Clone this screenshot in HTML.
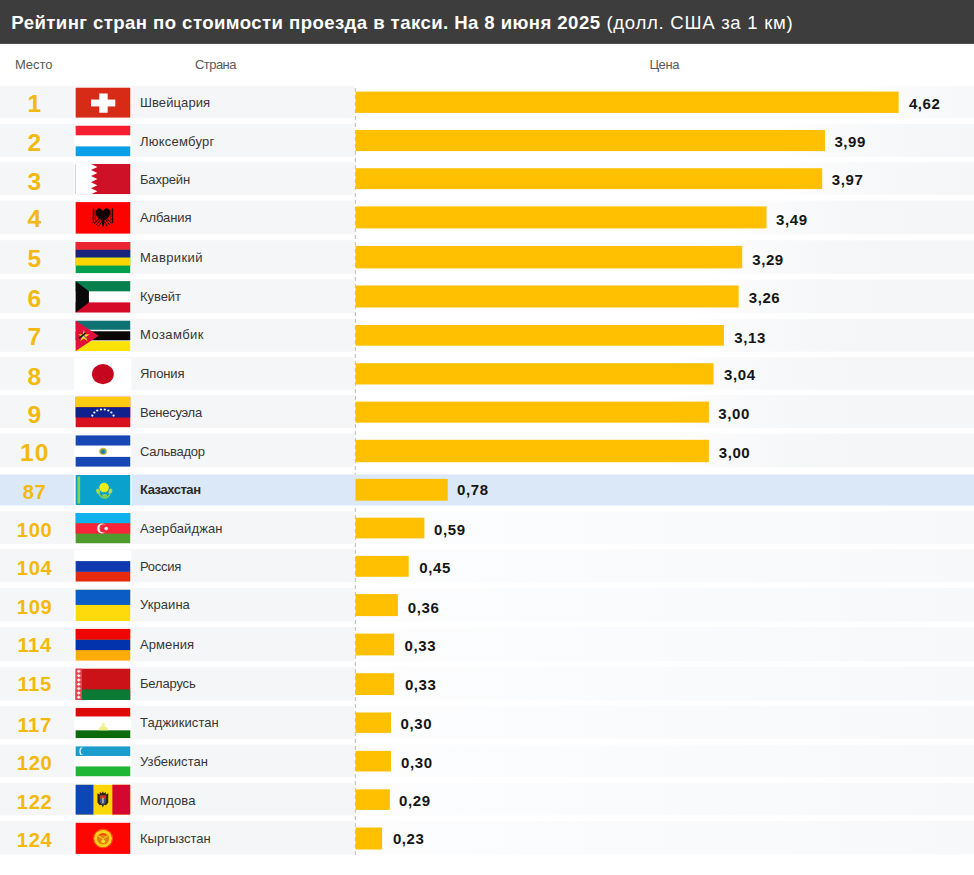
<!DOCTYPE html>
<html lang="ru">
<head>
<meta charset="utf-8">
<title>Рейтинг стран по стоимости проезда в такси</title>
<style>
html,body{margin:0;padding:0;}
body{width:974px;height:875px;background:#fff;position:relative;overflow:hidden;
 font-family:"Liberation Sans",sans-serif;}
.w{position:absolute;left:0;top:0;width:974px;height:875px;overflow:hidden;}
.i{position:absolute;left:0;top:0;width:974px;height:875px;}
.hdr{position:absolute;left:-8px;top:-8px;width:990px;height:51.9px;background:#3d3d3d;}
.ttl{position:absolute;top:0;height:44px;line-height:46.8px;color:#fff;white-space:nowrap;}
.ttl.a{left:11.3px;font-weight:bold;font-size:18.6px;letter-spacing:0.42px;}
.ttl.c{left:606.4px;font-size:18.6px;letter-spacing:0.7px;}
.ch{position:absolute;top:57px;font-size:13px;line-height:16px;color:#5a5a5a;white-space:nowrap;}
.band{position:absolute;left:-8px;width:990px;background:#f5f6f7;}
.band.r{background:linear-gradient(to right,#fbfbfc 0px,#f8f9fa 36px,#f6f7f8 90px,#f5f6f7 140px,#f5f6f7 100%);}
.band.kz{background:#dbe8f7;}
.num{position:absolute;left:0;width:68.6px;text-align:center;color:#f3b90f;font-weight:bold;
 font-size:24.6px;line-height:30px;height:30px;white-space:nowrap;letter-spacing:1px;text-indent:1px;}
.num.s{font-size:20.2px;letter-spacing:0.6px;text-indent:0.6px;}
.geo{position:absolute;left:0;top:0;display:block;z-index:0;}
.ttl,.ch,.num,.name,.val{z-index:2;}
.flag{position:absolute;left:75.4px;width:55.1px;height:30.5px;display:block;}
.halo{position:absolute;left:74.2px;width:57px;background:#fff;}
.name{position:absolute;left:140px;font-size:13px;line-height:16px;height:16px;color:#363636;white-space:nowrap;}
.name.b{font-weight:bold;color:#2a2a2a;}
.bar{position:absolute;left:355.5px;height:21.2px;background:#ffc001;}
.val{position:absolute;font-weight:bold;font-size:15px;letter-spacing:0.6px;line-height:18px;height:18px;color:#151515;white-space:nowrap;}
.axis{position:absolute;left:354.8px;top:88px;width:1px;height:768px;background:repeating-linear-gradient(to bottom,#b3b8c1 0px,#b3b8c1 4px,transparent 4px,transparent 7px);}
</style>
</head>
<body>
<div class="w"><div class="i">
<div class="ttl a">Рейтинг стран по стоимости проезда в такси. На 8 июня 2025</div>
<div class="ttl c">(долл. США за 1 км)</div>
<div class="ch" style="left:14.9px;letter-spacing:-0.05px">Место</div>
<div class="ch" style="left:195px;letter-spacing:-0.55px">Страна</div>
<div class="ch" style="left:649.4px;letter-spacing:-0.4px">Цена</div>

<svg class="geo" width="974" height="875" viewBox="0 0 974 875">
<defs><linearGradient id="g0" gradientUnits="userSpaceOnUse" x1="853.6" y1="0" x2="1038.7" y2="0"><stop offset="0" stop-color="#ffffff"/><stop offset="0.25" stop-color="#fbfbfc"/><stop offset="0.45" stop-color="#f8f9fa"/><stop offset="0.73" stop-color="#f6f7f8"/><stop offset="1" stop-color="#f5f6f7"/></linearGradient><linearGradient id="g1" gradientUnits="userSpaceOnUse" x1="780.0" y1="0" x2="965.0" y2="0"><stop offset="0" stop-color="#ffffff"/><stop offset="0.25" stop-color="#fbfbfc"/><stop offset="0.45" stop-color="#f8f9fa"/><stop offset="0.73" stop-color="#f6f7f8"/><stop offset="1" stop-color="#f5f6f7"/></linearGradient><linearGradient id="g2" gradientUnits="userSpaceOnUse" x1="777.2" y1="0" x2="962.2" y2="0"><stop offset="0" stop-color="#ffffff"/><stop offset="0.25" stop-color="#fbfbfc"/><stop offset="0.45" stop-color="#f8f9fa"/><stop offset="0.73" stop-color="#f6f7f8"/><stop offset="1" stop-color="#f5f6f7"/></linearGradient><linearGradient id="g3" gradientUnits="userSpaceOnUse" x1="721.5" y1="0" x2="906.5" y2="0"><stop offset="0" stop-color="#ffffff"/><stop offset="0.25" stop-color="#fbfbfc"/><stop offset="0.45" stop-color="#f8f9fa"/><stop offset="0.73" stop-color="#f6f7f8"/><stop offset="1" stop-color="#f5f6f7"/></linearGradient><linearGradient id="g4" gradientUnits="userSpaceOnUse" x1="697.2" y1="0" x2="882.2" y2="0"><stop offset="0" stop-color="#ffffff"/><stop offset="0.25" stop-color="#fbfbfc"/><stop offset="0.45" stop-color="#f8f9fa"/><stop offset="0.73" stop-color="#f6f7f8"/><stop offset="1" stop-color="#f5f6f7"/></linearGradient><linearGradient id="g5" gradientUnits="userSpaceOnUse" x1="693.6" y1="0" x2="878.6" y2="0"><stop offset="0" stop-color="#ffffff"/><stop offset="0.25" stop-color="#fbfbfc"/><stop offset="0.45" stop-color="#f8f9fa"/><stop offset="0.73" stop-color="#f6f7f8"/><stop offset="1" stop-color="#f5f6f7"/></linearGradient><linearGradient id="g6" gradientUnits="userSpaceOnUse" x1="678.9" y1="0" x2="863.9" y2="0"><stop offset="0" stop-color="#ffffff"/><stop offset="0.25" stop-color="#fbfbfc"/><stop offset="0.45" stop-color="#f8f9fa"/><stop offset="0.73" stop-color="#f6f7f8"/><stop offset="1" stop-color="#f5f6f7"/></linearGradient><linearGradient id="g7" gradientUnits="userSpaceOnUse" x1="668.6" y1="0" x2="853.6" y2="0"><stop offset="0" stop-color="#ffffff"/><stop offset="0.25" stop-color="#fbfbfc"/><stop offset="0.45" stop-color="#f8f9fa"/><stop offset="0.73" stop-color="#f6f7f8"/><stop offset="1" stop-color="#f5f6f7"/></linearGradient><linearGradient id="g8" gradientUnits="userSpaceOnUse" x1="663.9" y1="0" x2="848.9" y2="0"><stop offset="0" stop-color="#ffffff"/><stop offset="0.25" stop-color="#fbfbfc"/><stop offset="0.45" stop-color="#f8f9fa"/><stop offset="0.73" stop-color="#f6f7f8"/><stop offset="1" stop-color="#f5f6f7"/></linearGradient><linearGradient id="g9" gradientUnits="userSpaceOnUse" x1="663.9" y1="0" x2="848.9" y2="0"><stop offset="0" stop-color="#ffffff"/><stop offset="0.25" stop-color="#fbfbfc"/><stop offset="0.45" stop-color="#f8f9fa"/><stop offset="0.73" stop-color="#f6f7f8"/><stop offset="1" stop-color="#f5f6f7"/></linearGradient><linearGradient id="g11" gradientUnits="userSpaceOnUse" x1="356" y1="0" x2="974" y2="0"><stop offset="0" stop-color="#fdfdfe"/><stop offset="0.25" stop-color="#fbfcfd"/><stop offset="0.6" stop-color="#f9fafb"/><stop offset="1" stop-color="#f7f8fa"/></linearGradient><linearGradient id="g12" gradientUnits="userSpaceOnUse" x1="356" y1="0" x2="974" y2="0"><stop offset="0" stop-color="#fdfdfe"/><stop offset="0.25" stop-color="#fbfcfd"/><stop offset="0.6" stop-color="#f9fafb"/><stop offset="1" stop-color="#f7f8fa"/></linearGradient><linearGradient id="g13" gradientUnits="userSpaceOnUse" x1="356" y1="0" x2="974" y2="0"><stop offset="0" stop-color="#fdfdfe"/><stop offset="0.25" stop-color="#fbfcfd"/><stop offset="0.6" stop-color="#f9fafb"/><stop offset="1" stop-color="#f7f8fa"/></linearGradient><linearGradient id="g14" gradientUnits="userSpaceOnUse" x1="356" y1="0" x2="974" y2="0"><stop offset="0" stop-color="#fdfdfe"/><stop offset="0.25" stop-color="#fbfcfd"/><stop offset="0.6" stop-color="#f9fafb"/><stop offset="1" stop-color="#f7f8fa"/></linearGradient><linearGradient id="g15" gradientUnits="userSpaceOnUse" x1="356" y1="0" x2="974" y2="0"><stop offset="0" stop-color="#fdfdfe"/><stop offset="0.25" stop-color="#fbfcfd"/><stop offset="0.6" stop-color="#f9fafb"/><stop offset="1" stop-color="#f7f8fa"/></linearGradient><linearGradient id="g16" gradientUnits="userSpaceOnUse" x1="356" y1="0" x2="974" y2="0"><stop offset="0" stop-color="#fdfdfe"/><stop offset="0.25" stop-color="#fbfcfd"/><stop offset="0.6" stop-color="#f9fafb"/><stop offset="1" stop-color="#f7f8fa"/></linearGradient><linearGradient id="g17" gradientUnits="userSpaceOnUse" x1="356" y1="0" x2="974" y2="0"><stop offset="0" stop-color="#fdfdfe"/><stop offset="0.25" stop-color="#fbfcfd"/><stop offset="0.6" stop-color="#f9fafb"/><stop offset="1" stop-color="#f7f8fa"/></linearGradient><linearGradient id="g18" gradientUnits="userSpaceOnUse" x1="356" y1="0" x2="974" y2="0"><stop offset="0" stop-color="#fdfdfe"/><stop offset="0.25" stop-color="#fbfcfd"/><stop offset="0.6" stop-color="#f9fafb"/><stop offset="1" stop-color="#f7f8fa"/></linearGradient><linearGradient id="g19" gradientUnits="userSpaceOnUse" x1="356" y1="0" x2="974" y2="0"><stop offset="0" stop-color="#fdfdfe"/><stop offset="0.25" stop-color="#fbfcfd"/><stop offset="0.6" stop-color="#f9fafb"/><stop offset="1" stop-color="#f7f8fa"/></linearGradient></defs>
<rect x="-2" y="-2" width="978" height="45.9" fill="#3d3d3d"/>
<line x1="355.3" y1="88" x2="355.3" y2="856" stroke="#b3b8c1" stroke-width="1" stroke-dasharray="4 3"/>
<rect x="-2" y="85.80" width="356.2" height="32.50" fill="#f5f6f7"/>
<rect x="853.65" y="85.80" width="122.35" height="32.50" fill="url(#g0)"/>
<rect x="74.2" y="86.60" width="57.2" height="31.90" fill="#fff"/>
<svg x="75.4" y="87.40" width="55.1" height="30.40" viewBox="0 0 55 30" preserveAspectRatio="none"><rect width="55" height="30" fill="#d82b17"/><rect x="23.8" y="6" width="8.4" height="19" fill="#fff"/><rect x="15.6" y="12" width="24.2" height="6.8" fill="#fff"/></svg>
<rect x="355.50" y="91.60" width="543.15" height="21.30" fill="#ffc001"/>
<rect x="-2" y="123.90" width="356.2" height="33.00" fill="#f5f6f7"/>
<rect x="780.00" y="123.90" width="196.00" height="33.00" fill="url(#g1)"/>
<rect x="74.2" y="124.70" width="57.2" height="32.40" fill="#fff"/>
<svg x="75.4" y="125.50" width="55.1" height="30.90" viewBox="0 0 55 30" preserveAspectRatio="none"><rect width="55" height="30" fill="#fff"/><rect width="55" height="9.5" fill="#f71e32"/><rect y="20.3" width="55" height="9.7" fill="#0a9fe6"/></svg>
<rect x="355.50" y="130.00" width="469.50" height="21.10" fill="#ffc001"/>
<rect x="-2" y="162.30" width="356.2" height="32.50" fill="#f5f6f7"/>
<rect x="777.20" y="162.30" width="198.80" height="32.50" fill="url(#g2)"/>
<rect x="74.2" y="163.10" width="57.2" height="31.90" fill="#fff"/>
<svg x="75.4" y="163.90" width="55.1" height="30.40" viewBox="0 0 55 30" preserveAspectRatio="none"><rect width="55" height="30" fill="#ce1126"/><polygon points="0,0 15.5,0 22.00,3.00 15.50,6.00 22.00,9.00 15.50,12.00 22.00,15.00 15.50,18.00 22.00,21.00 15.50,24.00 22.00,27.00 15.50,30.00 0,30" fill="#fff"/></svg>
<rect x="355.50" y="168.20" width="466.70" height="20.90" fill="#ffc001"/>
<rect x="-2" y="200.50" width="356.2" height="33.80" fill="#f5f6f7"/>
<rect x="721.50" y="200.50" width="254.50" height="33.80" fill="url(#g3)"/>
<rect x="74.2" y="201.30" width="57.2" height="33.20" fill="#fff"/>
<svg x="75.4" y="202.10" width="55.1" height="31.70" viewBox="0 0 55 30" preserveAspectRatio="none"><rect width="55" height="30" fill="#fd0300"/><g fill="#120404"><path d="M27.5 8.6 C26.6 6.4 24.4 5.4 22.6 6 C20.6 6.8 20 9 20.4 11 C20.8 13.6 22.6 15.4 24.6 16.4 L26 17 L26.4 20.6 L27.5 24.2 L28.6 20.6 L29 17 L30.4 16.4 C32.4 15.4 34.2 13.6 34.6 11 C35 9 34.4 6.8 32.4 6 C30.6 5.4 28.4 6.4 27.5 8.6Z"/></g><g stroke="#2a0303" fill="none" stroke-linecap="round"><path d="M17.9 6.4 V19.4 M37.1 6.4 V19.4" stroke-width="1.3"/><path d="M19.6 7.6 V17.6 M35.4 7.6 V17.6" stroke-width="0.9" stroke="#5a0606"/><path d="M23.6 15.6 L19 20.2 M24.8 16.8 L21 21.4 M31.4 15.6 L36 20.2 M30.2 16.8 L34 21.4" stroke-width="1.0"/><path d="M26 19 L23.4 22.4 M29 19 L31.6 22.4" stroke-width="1.0"/></g></svg>
<rect x="355.50" y="206.40" width="411.00" height="22.00" fill="#ffc001"/>
<rect x="-2" y="240.30" width="356.2" height="33.50" fill="#f5f6f7"/>
<rect x="697.20" y="240.30" width="278.80" height="33.50" fill="url(#g4)"/>
<rect x="74.2" y="241.10" width="57.2" height="32.90" fill="#fff"/>
<svg x="75.4" y="241.90" width="55.1" height="31.40" viewBox="0 0 55 30" preserveAspectRatio="none"><rect width="55" height="30" fill="#00a04d"/><rect width="55" height="7.6" fill="#ea2432"/><rect y="7.6" width="55" height="7.4" fill="#1a237b"/><rect y="15" width="55" height="7.6" fill="#ffd500"/></svg>
<rect x="355.50" y="245.90" width="386.70" height="22.50" fill="#ffc001"/>
<rect x="-2" y="279.50" width="356.2" height="33.70" fill="#f5f6f7"/>
<rect x="693.65" y="279.50" width="282.35" height="33.70" fill="url(#g5)"/>
<rect x="74.2" y="280.30" width="57.2" height="33.10" fill="#fff"/>
<svg x="75.4" y="281.10" width="55.1" height="31.60" viewBox="0 0 55 30" preserveAspectRatio="none"><rect width="55" height="30" fill="#fff"/><rect width="55" height="9.7" fill="#08804e"/><rect y="20.2" width="55" height="9.8" fill="#d40a28"/><polygon points="0,0 13.5,9.7 13.5,20.2 0,30" fill="#0a0a0a"/></svg>
<rect x="355.50" y="285.50" width="383.15" height="22.00" fill="#ffc001"/>
<rect x="-2" y="318.80" width="356.2" height="32.90" fill="#f5f6f7"/>
<rect x="678.90" y="318.80" width="297.10" height="32.90" fill="url(#g6)"/>
<rect x="74.2" y="319.60" width="57.2" height="32.30" fill="#fff"/>
<svg x="75.4" y="320.40" width="55.1" height="30.80" viewBox="0 0 55 30" preserveAspectRatio="none"><rect width="55" height="30" fill="#fff"/><rect width="55" height="9.1" fill="#0f7272"/><rect y="10.6" width="55" height="8.8" fill="#0a0606"/><rect y="20.2" width="55" height="9.8" fill="#fde208"/><polygon points="0,0 23.2,15 0,30" fill="#e1103a"/><polygon points="8.50,9.40 9.85,13.55 14.21,13.55 10.68,16.11 12.03,20.25 8.50,17.69 4.97,20.25 6.32,16.11 2.79,13.55 7.15,13.55" fill="#f8d21e"/><ellipse cx="8.2" cy="15.6" rx="1.6" ry="1.3" fill="#c9c9a8"/><path d="M3.6 17.6 L10 12.4" stroke="#1a1208" stroke-width="1.5" fill="none"/><path d="M6.4 12.6 L11.2 17.4" stroke="#3a2a10" stroke-width="0.8" fill="none"/></svg>
<rect x="355.50" y="325.00" width="368.40" height="20.70" fill="#ffc001"/>
<rect x="-2" y="357.20" width="356.2" height="32.50" fill="#f5f6f7"/>
<rect x="668.60" y="357.20" width="307.40" height="32.50" fill="url(#g7)"/>
<rect x="74.2" y="358.00" width="57.2" height="31.90" fill="#fff"/>
<svg x="75.4" y="358.80" width="55.1" height="30.40" viewBox="0 0 55 30" preserveAspectRatio="none"><rect width="55" height="30" fill="#fff"/><ellipse cx="27.45" cy="15.1" rx="10.9" ry="10.0" fill="#c6061f"/></svg>
<rect x="355.50" y="363.20" width="358.10" height="21.30" fill="#ffc001"/>
<rect x="-2" y="395.00" width="356.2" height="32.90" fill="#f5f6f7"/>
<rect x="663.90" y="395.00" width="312.10" height="32.90" fill="url(#g8)"/>
<rect x="74.2" y="395.80" width="57.2" height="32.30" fill="#fff"/>
<svg x="75.4" y="396.60" width="55.1" height="30.80" viewBox="0 0 55 30" preserveAspectRatio="none"><rect width="55" height="30" fill="#d8101f"/><rect width="55" height="10.4" fill="#ffcb10"/><rect y="10.4" width="55" height="10" fill="#10208c"/><ellipse cx="16.9" cy="18.5" rx="1.15" ry="1.05" fill="#f4f4ff"/><ellipse cx="18.9" cy="15.5" rx="1.15" ry="1.05" fill="#f4f4ff"/><ellipse cx="21.8" cy="13.5" rx="1.15" ry="1.05" fill="#f4f4ff"/><ellipse cx="25.5" cy="12.6" rx="1.15" ry="1.05" fill="#f4f4ff"/><ellipse cx="29.3" cy="12.6" rx="1.15" ry="1.05" fill="#f4f4ff"/><ellipse cx="32.9" cy="13.5" rx="1.15" ry="1.05" fill="#f4f4ff"/><ellipse cx="35.9" cy="15.5" rx="1.15" ry="1.05" fill="#f4f4ff"/><ellipse cx="38.1" cy="18.5" rx="1.15" ry="1.05" fill="#f4f4ff"/></svg>
<rect x="355.50" y="401.60" width="353.40" height="21.10" fill="#ffc001"/>
<rect x="-2" y="433.60" width="356.2" height="33.70" fill="#f5f6f7"/>
<rect x="663.90" y="433.60" width="312.10" height="33.70" fill="url(#g9)"/>
<rect x="74.2" y="434.40" width="57.2" height="33.10" fill="#fff"/>
<svg x="75.4" y="435.20" width="55.1" height="31.60" viewBox="0 0 55 30" preserveAspectRatio="none"><rect width="55" height="30" fill="#fff"/><rect width="55" height="9.8" fill="#1647b4"/><rect y="20.6" width="55" height="9.4" fill="#1647b4"/><ellipse cx="27.6" cy="15.4" rx="3.9" ry="3.4" fill="#d4b94a"/><ellipse cx="27.6" cy="15.4" rx="2.7" ry="2.4" fill="#3f9a7a"/><polygon points="27.6,13.6 29.6,16.8 25.6,16.8" fill="#2f6fb5"/></svg>
<rect x="355.50" y="439.80" width="353.40" height="22.40" fill="#ffc001"/>
<rect x="-2" y="474.50" width="978" height="31.00" fill="#dbe8f7"/>
<rect x="74.2" y="474.10" width="57.2" height="31.60" fill="#fff"/>
<svg x="75.4" y="474.90" width="55.1" height="30.10" viewBox="0 0 55 30" preserveAspectRatio="none"><rect width="55" height="30" fill="#0aa2cd"/><rect x="2.1" y="1.6" width="2.6" height="27" fill="#84d44e"/><ellipse cx="28.6" cy="12.6" rx="4.8" ry="4.7" fill="#f1ee18"/><ellipse cx="22.6" cy="16.2" rx="1.8" ry="2.6" fill="#b4d94c" transform="rotate(-18 22.6 16.2)"/><ellipse cx="35" cy="16.2" rx="1.8" ry="2.6" fill="#b4d94c" transform="rotate(18 35 16.2)"/><path d="M23.2 18.4 C25 21.8 27.4 23 29.4 23 C31.4 23 33.4 21.6 34.6 18.4" stroke="#7fcf58" stroke-width="1.5" fill="none"/><ellipse cx="29.2" cy="20.6" rx="2.4" ry="1.5" fill="#8fd24f"/></svg>
<rect x="355.50" y="478.90" width="92.20" height="21.80" fill="#ffc001"/>
<rect x="-2" y="511.30" width="356.2" height="32.70" fill="#f5f6f7"/>
<rect x="356" y="511.30" width="620" height="32.70" fill="url(#g11)"/>
<rect x="74.2" y="512.10" width="57.2" height="32.10" fill="#fff"/>
<svg x="75.4" y="512.90" width="55.1" height="30.60" viewBox="0 0 55 30" preserveAspectRatio="none"><rect width="55" height="30" fill="#4f9a2e"/><rect width="55" height="10.2" fill="#0fb2ec"/><rect y="10.2" width="55" height="10.1" fill="#f9233a"/><ellipse cx="26.4" cy="15.2" rx="4.6" ry="4.9" fill="#fff"/><ellipse cx="27.9" cy="15.2" rx="3.8" ry="4.0" fill="#f9233a"/><polygon points="30.70,13.10 31.21,14.08 32.26,13.74 31.92,14.79 32.90,15.30 31.92,15.81 32.26,16.86 31.21,16.52 30.70,17.50 30.19,16.52 29.14,16.86 29.48,15.81 28.50,15.30 29.48,14.79 29.14,13.74 30.19,14.08" fill="#fff"/></svg>
<rect x="355.50" y="517.70" width="68.90" height="20.70" fill="#ffc001"/>
<rect x="-2" y="549.20" width="356.2" height="33.00" fill="#f5f6f7"/>
<rect x="356" y="549.20" width="620" height="33.00" fill="url(#g12)"/>
<rect x="74.2" y="550.00" width="57.2" height="32.40" fill="#fff"/>
<svg x="75.4" y="550.80" width="55.1" height="30.90" viewBox="0 0 55 30" preserveAspectRatio="none"><rect width="55" height="30" fill="#fff"/><rect y="10" width="55" height="10.5" fill="#1039b0"/><rect y="20.5" width="55" height="9.5" fill="#e6290f"/></svg>
<rect x="355.50" y="555.90" width="53.20" height="20.90" fill="#ffc001"/>
<rect x="-2" y="587.90" width="356.2" height="33.60" fill="#f5f6f7"/>
<rect x="356" y="587.90" width="620" height="33.60" fill="url(#g13)"/>
<rect x="74.2" y="588.70" width="57.2" height="33.00" fill="#fff"/>
<svg x="75.4" y="589.50" width="55.1" height="31.50" viewBox="0 0 55 30" preserveAspectRatio="none"><rect width="55" height="30" fill="#fed90c"/><rect width="55" height="14.7" fill="#0b5cc4"/></svg>
<rect x="355.50" y="594.10" width="42.40" height="22.00" fill="#ffc001"/>
<rect x="-2" y="627.10" width="356.2" height="34.20" fill="#f5f6f7"/>
<rect x="356" y="627.10" width="620" height="34.20" fill="url(#g14)"/>
<rect x="74.2" y="627.90" width="57.2" height="33.60" fill="#fff"/>
<svg x="75.4" y="628.70" width="55.1" height="32.10" viewBox="0 0 55 30" preserveAspectRatio="none"><rect width="55" height="30" fill="#fbac08"/><rect width="55" height="10.3" fill="#f00505"/><rect y="10.3" width="55" height="9.7" fill="#0232ac"/></svg>
<rect x="355.50" y="633.60" width="38.70" height="21.80" fill="#ffc001"/>
<rect x="-2" y="666.80" width="356.2" height="33.70" fill="#f5f6f7"/>
<rect x="356" y="666.80" width="620" height="33.70" fill="url(#g15)"/>
<rect x="74.2" y="667.60" width="57.2" height="33.10" fill="#fff"/>
<svg x="75.4" y="668.40" width="55.1" height="31.60" viewBox="0 0 55 30" preserveAspectRatio="none"><rect width="55" height="30" fill="#cc1219"/><rect y="20" width="55" height="10" fill="#0c7a35"/><rect width="6.6" height="30" fill="#e2434e"/><polygon points="3.3,1.2 5.4,2.8 3.3,4.4 1.2,2.8" fill="#fbe9ea"/><polygon points="3.3,5.3 5.4,6.9 3.3,8.5 1.2,6.9" fill="#fbe9ea"/><polygon points="3.3,9.4 5.4,11.0 3.3,12.6 1.2,11.0" fill="#fbe9ea"/><polygon points="3.3,13.5 5.4,15.1 3.3,16.7 1.2,15.1" fill="#fbe9ea"/><polygon points="3.3,17.6 5.4,19.2 3.3,20.8 1.2,19.2" fill="#fbe9ea"/><polygon points="3.3,21.7 5.4,23.3 3.3,24.9 1.2,23.3" fill="#fbe9ea"/><polygon points="3.3,25.8 5.4,27.4 3.3,29.0 1.2,27.4" fill="#fbe9ea"/></svg>
<rect x="355.50" y="673.20" width="38.70" height="21.80" fill="#ffc001"/>
<rect x="-2" y="706.10" width="356.2" height="32.70" fill="#f5f6f7"/>
<rect x="356" y="706.10" width="620" height="32.70" fill="url(#g16)"/>
<rect x="74.2" y="706.90" width="57.2" height="32.10" fill="#fff"/>
<svg x="75.4" y="707.70" width="55.1" height="30.60" viewBox="0 0 55 30" preserveAspectRatio="none"><rect width="55" height="30" fill="#fff"/><rect width="55" height="8.6" fill="#dd0a08"/><rect y="22.2" width="55" height="7.8" fill="#0a6a0c"/><path d="M22.6 22.2 C23.6 19.6 25.4 18.4 27.2 18 L27.4 13.6 L28.2 16 L28.4 18 C30.2 18.4 32 19.6 33 22.2Z" fill="#f0ee86"/><ellipse cx="27.8" cy="16.4" rx="2.2" ry="1.2" fill="#f4f2a2"/></svg>
<rect x="355.50" y="712.50" width="35.50" height="20.40" fill="#ffc001"/>
<rect x="-2" y="744.60" width="356.2" height="32.30" fill="#f5f6f7"/>
<rect x="356" y="744.60" width="620" height="32.30" fill="url(#g17)"/>
<rect x="74.2" y="745.40" width="57.2" height="31.70" fill="#fff"/>
<svg x="75.4" y="746.20" width="55.1" height="30.20" viewBox="0 0 55 30" preserveAspectRatio="none"><rect width="55" height="30" fill="#fff"/><rect width="55" height="9.7" fill="#1b9dcc"/><rect y="20.1" width="55" height="9.9" fill="#1fb636"/><ellipse cx="6.2" cy="5" rx="2.2" ry="3.6" fill="#e8fbff"/><ellipse cx="7.4" cy="5" rx="2.1" ry="3.3" fill="#1b9dcc"/></svg>
<rect x="355.50" y="750.90" width="35.50" height="20.60" fill="#ffc001"/>
<rect x="-2" y="782.90" width="356.2" height="32.40" fill="#f5f6f7"/>
<rect x="356" y="782.90" width="620" height="32.40" fill="url(#g18)"/>
<rect x="74.2" y="783.70" width="57.2" height="31.80" fill="#fff"/>
<svg x="75.4" y="784.50" width="55.1" height="30.30" viewBox="0 0 55 30" preserveAspectRatio="none"><rect width="55" height="30" fill="#fdd606"/><rect width="18" height="30" fill="#0b48b5"/><rect x="36.9" width="18.1" height="30" fill="#d3072f"/><path d="M27.4 6.6 L28.4 8.6 L30.6 7.4 L30.2 9.8 L32.8 8.6 L32.8 17.8 L30.6 20.6 L28.6 20 L27.4 22.8 L26.2 20 L24.2 20.6 L22 17.8 L22 8.6 L24.6 9.8 L24.2 7.4 L26.4 8.6Z" fill="#2d2610"/><path d="M24.4 10.8 H30.4 V16.8 C30.4 18.6 28.8 19.4 27.4 20 C26 19.4 24.4 18.6 24.4 16.8Z" fill="#3b4f9f"/><path d="M24.4 10.8 H30.4 V13.8 H24.4Z" fill="#d8301c"/><path d="M26.6 13 H28.4 V18.6 H26.6Z" fill="#b9a77a"/></svg>
<rect x="355.50" y="789.30" width="34.30" height="20.60" fill="#ffc001"/>
<rect x="-2" y="821.00" width="356.2" height="33.40" fill="#f5f6f7"/>
<rect x="356" y="821.00" width="620" height="33.40" fill="url(#g19)"/>
<rect x="74.2" y="821.80" width="57.2" height="32.80" fill="#fff"/>
<svg x="75.4" y="822.60" width="55.1" height="31.30" viewBox="0 0 55 30" preserveAspectRatio="none"><rect width="55" height="30" fill="#fd0500"/><ellipse cx="27.6" cy="15.2" rx="9" ry="8.4" fill="#ffcf1c"/><ellipse cx="27.6" cy="15.2" rx="9.6" ry="9" fill="none" stroke="#fb7a0c" stroke-width="0.7"/><ellipse cx="27.6" cy="15.4" rx="6" ry="5.5" fill="#e07f0e"/><path d="M23 13.2 C25.6 13.4 27.6 15.2 28.8 18.6 M32.2 13.2 C29.6 13.4 27.6 15.2 26.4 18.6" stroke="#f4c524" stroke-width="1.0" fill="none"/><path d="M24.4 12 C26 10.8 29.2 10.8 30.8 12" stroke="#ee3a10" stroke-width="1.2" fill="none"/><ellipse cx="27.8" cy="18" rx="1.9" ry="1.6" fill="#fbe21e"/></svg>
<rect x="355.50" y="827.50" width="26.60" height="22.00" fill="#ffc001"/>
</svg>
<div class="num" style="top:89.18px">1</div>
<div class="name" style="top:95.35px;letter-spacing:0.09px">Швейцария</div>
<div class="val" style="top:94.95px;left:908.9px">4,62</div>
<div class="num" style="top:128.38px">2</div>
<div class="name" style="top:133.60px;letter-spacing:0.24px">Люксембург</div>
<div class="val" style="top:132.80px;left:834.4px">3,99</div>
<div class="num" style="top:166.68px">3</div>
<div class="name" style="top:171.90px;letter-spacing:-0.18px">Бахрейн</div>
<div class="val" style="top:171.20px;left:831.8px">3,97</div>
<div class="num" style="top:204.48px">4</div>
<div class="name" style="top:210.30px;letter-spacing:-0.10px">Албания</div>
<div class="val" style="top:211.10px;left:776.0px">3,49</div>
<div class="num" style="top:244.18px">5</div>
<div class="name" style="top:249.80px;letter-spacing:0.38px">Маврикий</div>
<div class="val" style="top:251.00px;left:752.2px">3,29</div>
<div class="num" style="top:283.58px">6</div>
<div class="name" style="top:288.60px;letter-spacing:-0.05px">Кувейт</div>
<div class="val" style="top:289.10px;left:748.7px">3,26</div>
<div class="num" style="top:322.18px">7</div>
<div class="name" style="top:327.30px;letter-spacing:0.42px">Мозамбик</div>
<div class="val" style="top:328.50px;left:734.3px">3,13</div>
<div class="num" style="top:361.58px">8</div>
<div class="name" style="top:366.30px;letter-spacing:-0.12px">Япония</div>
<div class="val" style="top:366.30px;left:724.0px">3,04</div>
<div class="num" style="top:400.08px">9</div>
<div class="name" style="top:404.90px;letter-spacing:-0.27px">Венесуэла</div>
<div class="val" style="top:404.60px;left:718.3px">3,00</div>
<div class="num" style="top:437.98px">10</div>
<div class="name" style="top:443.60px;letter-spacing:-0.27px">Сальвадор</div>
<div class="val" style="top:443.70px;left:718.7px">3,00</div>
<div class="num s" style="top:477.00px">87</div>
<div class="name b" style="top:482.40px;letter-spacing:-0.45px">Казахстан</div>
<div class="val" style="top:481.10px;left:457.1px">0,78</div>
<div class="num s" style="top:515.30px">100</div>
<div class="name" style="top:520.70px;letter-spacing:0.12px">Азербайджан</div>
<div class="val" style="top:520.50px;left:434.0px">0,59</div>
<div class="num s" style="top:553.20px">104</div>
<div class="name" style="top:558.90px;letter-spacing:-0.27px">Россия</div>
<div class="val" style="top:559.10px;left:419.3px">0,45</div>
<div class="num s" style="top:591.70px">109</div>
<div class="name" style="top:597.30px;letter-spacing:0.06px">Украина</div>
<div class="val" style="top:598.50px;left:407.8px">0,36</div>
<div class="num s" style="top:630.00px">114</div>
<div class="name" style="top:636.90px;letter-spacing:0.09px">Армения</div>
<div class="val" style="top:636.50px;left:404.5px">0,33</div>
<div class="num s" style="top:669.10px">115</div>
<div class="name" style="top:676.10px;letter-spacing:-0.17px">Беларусь</div>
<div class="val" style="top:676.00px;left:404.9px">0,33</div>
<div class="num s" style="top:709.90px">117</div>
<div class="name" style="top:714.80px;letter-spacing:0.10px">Таджикистан</div>
<div class="val" style="top:714.50px;left:400.6px">0,30</div>
<div class="num s" style="top:748.20px">120</div>
<div class="name" style="top:754.40px;letter-spacing:0.05px">Узбекистан</div>
<div class="val" style="top:754.00px;left:401.0px">0,30</div>
<div class="num s" style="top:786.50px">122</div>
<div class="name" style="top:792.60px;letter-spacing:0.21px">Молдова</div>
<div class="val" style="top:791.50px;left:399.0px">0,29</div>
<div class="num s" style="top:825.00px">124</div>
<div class="name" style="top:831.00px;letter-spacing:0.00px">Кыргызстан</div>
<div class="val" style="top:829.70px;left:392.9px">0,23</div>
</div></div>
</body>
</html>
